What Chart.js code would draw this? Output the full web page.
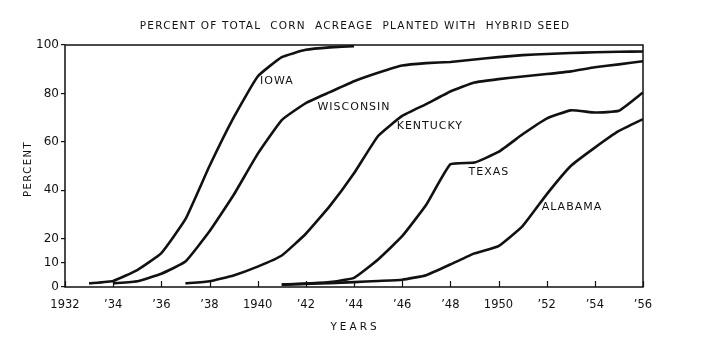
<!DOCTYPE html>
<html lang="en">
<head>
    <meta charset="UTF-8">
    <title>Percent of total corn acreage planted with hybrid seed</title>
    <script src="https://cdn.jsdelivr.net/npm/chart.js"></script>
    <style>
        body {
            margin: 0;
            padding: 0;
            background-color: #ffffff;
        }
        #wrap {
            width: 704px;
            height: 349px;
        }
    </style>
</head>
<body>
    <div id="wrap">
        <canvas id="myChart" width="704" height="349"></canvas>
    </div>

    <script>
        // tick values and labels
        const xTickValues = [1932, 1934, 1936, 1938, 1940, 1942, 1944, 1946, 1948, 1950, 1952, 1954, 1956];
        const xTickLabels = ['1932', '\u201934', '\u201936', '\u201938', '1940', '\u201942', '\u201944', '\u201946', '\u201948', '1950', '\u201952', '\u201954', '\u201956'];
        const yTickValues = [0, 10, 20, 40, 60, 80, 100];

        // series (percent of corn acreage in hybrid seed)
        const iowaYears = [1933, 1934, 1935, 1936, 1937, 1938, 1939, 1940, 1941, 1942, 1943, 1944];
        const iowaPct = [1.5, 2.5, 7, 14, 28, 50, 70, 87, 95, 98, 99, 99.5];

        const wisconsinYears = [1934, 1935, 1936, 1937, 1938, 1939, 1940, 1941, 1942, 1943, 1944, 1945, 1946, 1947, 1948, 1949, 1950, 1951, 1952, 1953, 1954, 1955, 1956];
        const wisconsinPct = [1.5, 2.4, 5.5, 10.5, 23, 38, 55, 69, 76, 80.5, 85, 88.5, 91.5, 92.5, 93, 94, 95, 95.8, 96.3, 96.7, 97, 97.2, 97.3];

        const kentuckyYears = [1937, 1938, 1939, 1940, 1941, 1942, 1943, 1944, 1945, 1946, 1947, 1948, 1949, 1950, 1951, 1952, 1953, 1954, 1955, 1956];
        const kentuckyPct = [1.5, 2.4, 4.8, 8.4, 13, 22, 33.5, 47, 62.4, 70.7, 75.6, 80.8, 84.5, 85.9, 87, 88, 89.1, 90.8, 92, 93.3];

        const texasYears = [1941, 1942, 1943, 1944, 1945, 1946, 1947, 1948, 1949, 1950, 1951, 1952, 1953, 1954, 1955, 1956];
        const texasPct = [1, 1.4, 2, 3.8, 11.4, 21, 34, 50.7, 51.4, 55.8, 63.1, 69.6, 73, 72.1, 72.8, 80.4];

        const alabamaYears = [1941, 1942, 1943, 1944, 1945, 1946, 1947, 1948, 1949, 1950, 1951, 1952, 1953, 1954, 1955, 1956];
        const alabamaPct = [1, 1.3, 1.6, 2, 2.5, 3, 4.9, 9.3, 13.9, 16.9, 25.2, 38.3, 50, 57.6, 64.5, 69.4];

        // where the state names sit, in data units
        const seriesLabels = [
            { text: 'IOWA', x: 1940.8, y: 85 },
            { text: 'WISCONSIN', x: 1944.0, y: 74.4 },
            { text: 'KENTUCKY', x: 1947.15, y: 66.6 },
            { text: 'TEXAS', x: 1949.6, y: 47.3 },
            { text: 'ALABAMA', x: 1953.05, y: 33.2 }
        ];

        const ink = '#111111';

        function toPoints(xs, ys) {
            return xs.map((x, i) => ({ x: x, y: ys[i] }));
        }

        function makeSet(label, xs, ys) {
            return {
                label: label,
                data: toPoints(xs, ys),
                borderColor: ink,
                borderWidth: 2.6,
                pointRadius: 0,
                tension: 0.12,
                fill: false
            };
        }

        // frame, inward x ticks, titles and state names
        const decorPlugin = {
            id: 'decor',
            afterDraw(chart) {
                const ctx = chart.ctx;
                const area = chart.chartArea;
                const xs = chart.scales.x;
                const ys = chart.scales.y;
                ctx.save();
                ctx.strokeStyle = ink;
                ctx.lineWidth = 1.5;
                ctx.strokeRect(area.left, area.top, area.right - area.left, area.bottom - area.top);

                ctx.lineWidth = 1.2;
                xTickValues.forEach(v => {
                    const px = Math.round(xs.getPixelForValue(v)) + 0.5;
                    ctx.beginPath();
                    ctx.moveTo(px, area.bottom);
                    ctx.lineTo(px, area.bottom - 6);
                    ctx.stroke();
                });

                ctx.fillStyle = ink;
                ctx.textAlign = 'center';
                ctx.textBaseline = 'middle';

                ctx.font = '10.5px "DejaVu Sans"';
                ctx.letterSpacing = '1.2px';
                ctx.fillText('PERCENT OF TOTAL  CORN  ACREAGE  PLANTED WITH  HYBRID SEED', 355, 26);

                ctx.letterSpacing = '3px';
                ctx.font = '10.5px "DejaVu Sans"';
                ctx.fillText('YEARS', 355, 327);

                ctx.save();
                ctx.translate(28, 169);
                ctx.rotate(-Math.PI / 2);
                ctx.font = '10px "DejaVu Sans"';
                ctx.letterSpacing = '1.5px';
                ctx.fillText('PERCENT', 0, 0);
                ctx.restore();

                ctx.font = '11px "DejaVu Sans"';
                ctx.letterSpacing = '1px';
                seriesLabels.forEach(l => {
                    ctx.fillText(l.text, xs.getPixelForValue(l.x), ys.getPixelForValue(l.y));
                });
                ctx.restore();
            }
        };

        function createChart() {
            const ctx = document.getElementById('myChart').getContext('2d');
            window.myChart = new Chart(ctx, {
                type: 'line',
                data: {
                    datasets: [
                        makeSet('Iowa', iowaYears, iowaPct),
                        makeSet('Wisconsin', wisconsinYears, wisconsinPct),
                        makeSet('Kentucky', kentuckyYears, kentuckyPct),
                        makeSet('Texas', texasYears, texasPct),
                        makeSet('Alabama', alabamaYears, alabamaPct)
                    ]
                },
                options: {
                    responsive: false,
                    animation: false,
                    layout: {
                        padding: { top: 45, right: 61, bottom: 0, left: 0 }
                    },
                    plugins: {
                        legend: { display: false },
                        tooltip: { enabled: false }
                    },
                    scales: {
                        x: {
                            type: 'linear',
                            min: 1932,
                            max: 1956,
                            afterBuildTicks: scale => {
                                scale.ticks = xTickValues.map(v => ({ value: v }));
                            },
                            afterFit: scale => {
                                scale.height = 62;
                            },
                            grid: { display: false, drawTicks: false },
                            border: { display: false },
                            ticks: {
                                padding: 11,
                                maxRotation: 0,
                                color: ink,
                                font: { family: 'DejaVu Sans', size: 11.5 },
                                callback: (value) => xTickLabels[xTickValues.indexOf(value)]
                            }
                        },
                        y: {
                            min: 0,
                            max: 100,
                            afterBuildTicks: scale => {
                                scale.ticks = yTickValues.map(v => ({ value: v }));
                            },
                            afterFit: scale => {
                                scale.width = 65;
                            },
                            grid: {
                                drawOnChartArea: false,
                                tickLength: 4,
                                color: ink,
                                lineWidth: 1.2
                            },
                            border: { display: false },
                            ticks: {
                                padding: 2,
                                color: ink,
                                font: { family: 'DejaVu Sans', size: 12 }
                            }
                        }
                    }
                },
                plugins: [decorPlugin]
            });
        }

        createChart();
    </script>
</body>
</html>
